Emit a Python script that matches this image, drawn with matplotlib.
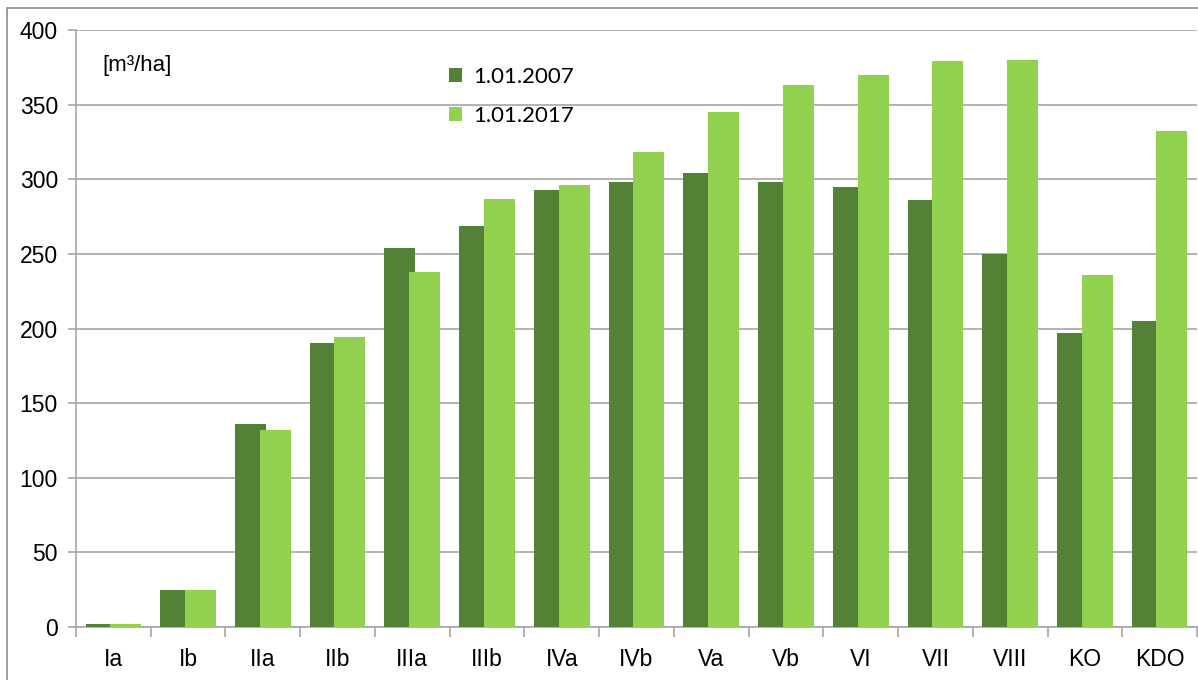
import matplotlib
matplotlib.use("Agg")
import matplotlib.pyplot as plt
from matplotlib.patches import Rectangle
import numpy as np

categories = ["Ia", "Ib", "IIa", "IIb", "IIIa", "IIIb", "IVa", "IVb", "Va", "Vb",
              "VI", "VII", "VIII", "KO", "KDO"]
vals_2007 = [2, 25, 136, 190, 254, 269, 293, 298, 304, 298, 295, 286, 250, 197, 205]
vals_2017 = [2, 25, 132, 194, 238, 287, 296, 318, 345, 363, 370, 379, 380, 236, 332]
series_names = ["1.01.2007", "1.01.2017"]
yticks = [0, 50, 100, 150, 200, 250, 300, 350, 400]

dark = "#538135"
light = "#92D050"
grid_c = "#a6a6a6"

W, H = 1198, 680
fig = plt.figure(figsize=(W / 100, H / 100), dpi=100)
ax = fig.add_axes([76 / W, 1 - 627 / H, (1197 - 76) / W, (627 - 30) / H])

x = np.arange(len(categories))
w = 0.415
ax.bar(x - 0.165, vals_2007, width=w, color=dark, label=series_names[0], zorder=3)
ax.bar(x + 0.165, vals_2017, width=w, color=light, label=series_names[1], zorder=4)

ax.set_xlim(-0.5, len(categories) - 0.5)
ax.set_ylim(0, 400)
ax.set_yticks(yticks)
ax.set_yticklabels([str(v) for v in yticks], fontfamily="Liberation Sans", fontsize=16.5)
ax.yaxis.grid(True, color=grid_c, linewidth=1.2, zorder=0)
ax.set_axisbelow(True)

ax.set_xticks(x)
ax.set_xticklabels(categories, fontfamily="Liberation Sans", fontsize=16.5)
ax.set_xticks(np.arange(-0.5, len(categories)), minor=True)
ax.tick_params(axis="x", which="major", length=0, pad=15)
ax.tick_params(axis="x", which="minor", length=7, color=grid_c, width=1.2)
ax.tick_params(axis="y", length=6, color=grid_c, width=1.2, pad=7)

for s in ["top", "right"]:
    ax.spines[s].set_visible(False)
ax.spines["left"].set_color(grid_c)
ax.spines["left"].set_linewidth(1.2)
ax.spines["bottom"].set_color(grid_c)
ax.spines["bottom"].set_linewidth(1.2)

ax.text(102 / W, 1 - 65 / H, "[m³/ha]", transform=fig.transFigure,
        fontfamily="Liberation Sans", fontsize=16, va="center", ha="left")

ax.legend(loc="upper left", bbox_to_anchor=(429 / W, 1 - 47 / H),
          bbox_transform=fig.transFigure, frameon=False,
          prop={"family": "Lato", "size": 16}, handlelength=0.6,
          handleheight=0.6, handletextpad=0.5, labelspacing=0.85)

fig.patches.append(Rectangle((7 / W, -0.01), 1.1, 1 - 8 / H + 0.01,
                             transform=fig.transFigure, fill=False,
                             edgecolor="#8c8c8c", linewidth=1.2))

fig.savefig("out.png", dpi=100)
